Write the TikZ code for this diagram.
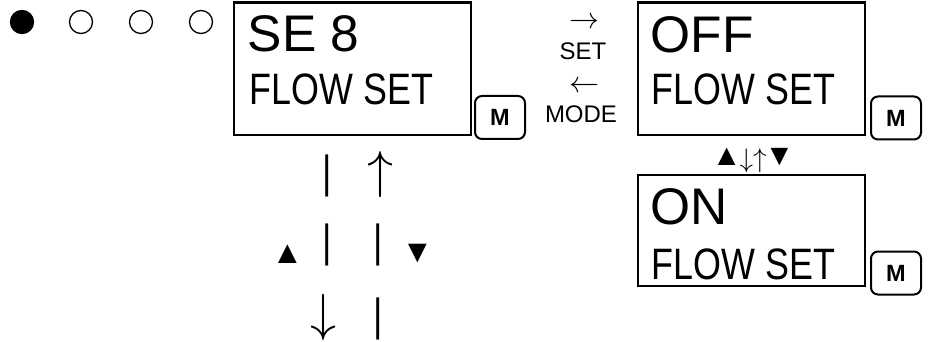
\RequirePackage{fix-cm}
\documentclass[tikz,border=0pt]{standalone}
\usepackage{fontspec}
\setmainfont{Liberation Sans}
\newfontfamily\condfont[FakeStretch=0.815]{Liberation Sans}
\newfontfamily\barfont[FakeStretch=0.8]{Liberation Sans}
\begin{document}
\begin{tikzpicture}[x=1pt,y=1pt,
  lcd/.style={draw, line width=2.4pt, inner sep=0pt},
  mbtn/.style={draw, line width=2pt, rounded corners=7pt, minimum width=50pt, minimum height=43pt, inner sep=0pt, font=\fontsize{23.5}{23.5}\selectfont\bfseries},
  bigtxt/.style={anchor=base west, inner sep=0pt, font=\fontsize{51.5}{51.5}\selectfont},
  midtxt/.style={anchor=base west, inner sep=0pt, font=\condfont\fontsize{44}{44}\selectfont},
  smalltxt/.style={inner sep=0pt, font=\fontsize{24}{24}\selectfont},
  hwarrow/.style={inner sep=0pt, font=\fontsize{30}{30}\selectfont},
  vwarrow/.style={inner sep=0pt, font=\fontsize{52}{52}\selectfont},
  tritxt/.style={inner sep=0pt, font=\fontsize{32}{32}\selectfont},
  bartxt/.style={inner sep=0pt, font=\barfont\fontsize{45}{45}\selectfont},
  dotc/.style={circle, draw, line width=1.3pt, minimum size=23pt, inner sep=0pt}]
\useasboundingbox (0,0) rectangle (930,-342);
% indicator dots
\node[dotc, fill=black] (c1) at (22,-22) {};
\node[dotc] (c2) at (81,-22) {};
\node[dotc] (c3) at (141,-22) {};
\node[dotc] (c4) at (201,-22) {};
% displays
\node[lcd, minimum width=237pt, minimum height=132.5pt] (b1) at (352.5,-68.75) {};
\node[lcd, minimum width=227pt, minimum height=132.5pt] (b2) at (751.5,-68.75) {};
\node[lcd, minimum width=227pt, minimum height=111pt] (b3) at (751.5,-230.5) {};
\node[bigtxt] (t1a) at (247.5,-52) {SE 8};
\node[midtxt] (t1b) at (249.5,-105) {FLOW SET};
\node[bigtxt] (t2a) at (650.5,-53) {OFF};
\node[midtxt] (t2b) at (651.5,-105) {FLOW SET};
\node[bigtxt] (t3a) at (650.5,-225) {ON};
\node[midtxt] (t3b) at (651.5,-279) {FLOW SET};
% M buttons
\node[mbtn] (m1) at (500,-117.5) {M};
\node[mbtn] (m2) at (896,-118) {M};
\node[mbtn] (m3) at (896,-273) {M};
% SET / MODE
\node[hwarrow] (ar1) at (584,-23) {$\rightarrow$};
\node[smalltxt, anchor=base] (set) at (583,-60) {SET};
\node[hwarrow] (ar2) at (584,-87) {$\leftarrow$};
\node[smalltxt, anchor=base] (mode) at (581,-123) {MODE};
% up/down between OFF and ON
\node[inner sep=0pt] (ud) at (753,-160) {{\fontsize{30}{30}\selectfont\raisebox{2pt}{▲}}\hspace{-2pt}{\fontsize{27}{27}\selectfont$\downarrow\uparrow$}\hspace{-2pt}{\fontsize{30}{30}\selectfont\raisebox{2pt}{▼}}};
% left column
\node[bartxt] (bar1) at (327,-175.5) {|};
\node[vwarrow] (up1) at (380,-175) {$\uparrow$};
\node[bartxt] (bar2) at (327,-244.5) {|};
\node[bartxt] (bar3) at (378,-244.5) {|};
\node[tritxt] (tri1) at (287.5,-254) {▲};
\node[tritxt] (tri2) at (417.5,-254) {▼};
\node[vwarrow] (dn1) at (323,-317.5) {$\downarrow$};
\node[bartxt] (bar4) at (378,-318.5) {|};
\end{tikzpicture}
\end{document}
